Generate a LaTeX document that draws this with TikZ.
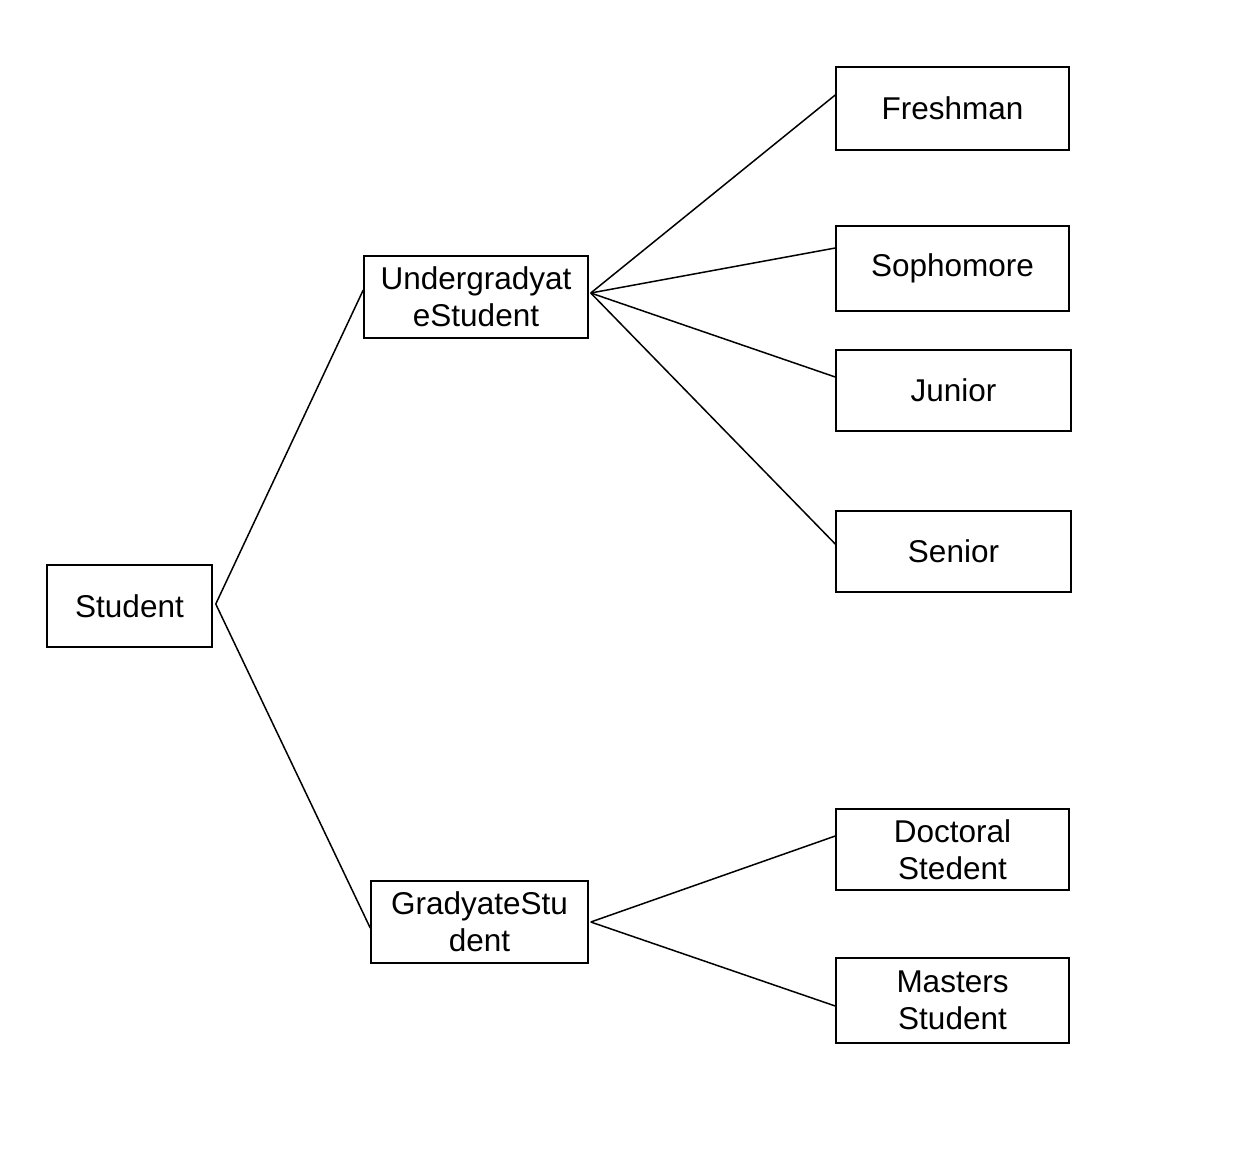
\documentclass[tikz,border=0pt]{standalone}
\usepackage{fontspec}
\setmainfont{Liberation Sans}
\usetikzlibrary{calc}
\begin{document}
\begin{tikzpicture}[x=1pt,y=-1pt,
  box/.style={draw,line width=1.5pt,inner sep=0pt,align=center,font=\fontsize{31.5}{37}\selectfont},
  link/.style={line width=1.5pt}]
\useasboundingbox[fill=white] (0,0) rectangle (1238,1162);
\node[box,minimum width=165pt,minimum height=82pt] (stu) at (129.5,606) {Student};
\node[box,minimum width=224pt,minimum height=82pt] (ug) at (476,297) {Undergradyat\\eStudent};
\node[box,minimum width=217pt,minimum height=82pt] (gr) at (479.5,922) {GradyateStu\\dent};
\node[box,minimum width=233pt,minimum height=83pt] (fr) at (952.5,108.5) {Freshman};
\node[box,minimum width=233pt,minimum height=85pt] (so) at (952.5,268.5) {Sophomore};
\node[box,minimum width=235pt,minimum height=81pt] (ju) at (953.5,390.5) {Junior};
\node[box,minimum width=235pt,minimum height=81pt] (se) at (953.5,551.5) {Senior};
\node[box,minimum width=233pt,minimum height=81pt] (dc) at (952.5,849.5) {Doctoral\\Stedent};
\node[box,minimum width=233pt,minimum height=85pt] (ms) at (952.5,1000.5) {Masters\\Student};
\draw[link] ([xshift=3pt,yshift=2pt]stu.east) -- ([yshift=7pt]ug.west);
\draw[link] ([xshift=3pt,yshift=2pt]stu.east) -- ([yshift=-6pt]gr.west);
\draw[link] ([xshift=2pt,yshift=4pt]ug.east) -- ([yshift=13.5pt]fr.west);
\draw[link] ([xshift=2pt,yshift=4pt]ug.east) -- ([yshift=20.5pt]so.west);
\draw[link] ([xshift=2pt,yshift=4pt]ug.east) -- ([yshift=13.5pt]ju.west);
\draw[link] ([xshift=2pt,yshift=4pt]ug.east) -- ([yshift=7.5pt]se.west);
\draw[link] ([xshift=2pt]gr.east) -- ([yshift=13.5pt]dc.west);
\draw[link] ([xshift=2pt]gr.east) -- ([yshift=-5.5pt]ms.west);
\end{tikzpicture}
\end{document}
